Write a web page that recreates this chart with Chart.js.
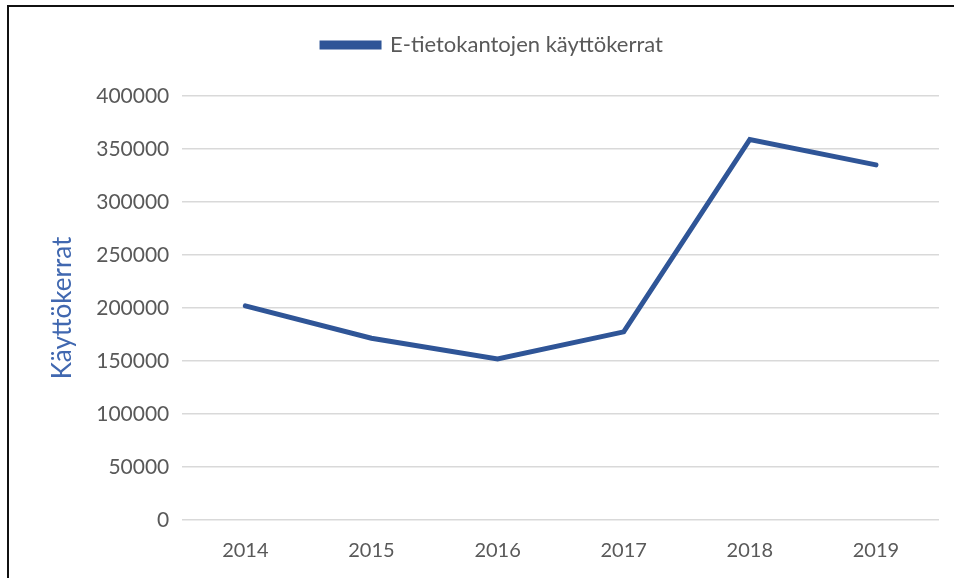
<!DOCTYPE html>
<html>
<head>
<meta charset="utf-8">
<script src="https://cdn.jsdelivr.net/npm/chart.js@4/dist/chart.umd.min.js"></script>
<style>
  html, body { margin: 0; padding: 0; background: #fff; }
  #wrap { position: relative; width: 954px; height: 578px; }
  #frame { position: absolute; left: 7px; top: 5px; right: 0; bottom: 0;
           border-left: 2px solid #111; border-top: 2px solid #111; pointer-events: none; }
</style>
</head>
<body>
<div id="wrap">
  <canvas id="usageChart" width="954" height="578"></canvas>
  <div id="frame"></div>
</div>
<script>
// data
const years = ['2014', '2015', '2016', '2017', '2018', '2019'];
const usage = [202000, 171500, 152000, 177500, 359000, 335000];
const yTicks = [0, 50000, 100000, 150000, 200000, 250000, 300000, 350000, 400000];

const seriesLabel = 'E-tietokantojen käyttökerrat';
const axisTitle = 'Käyttökerrat';

const colors = {
    line: '#2F5597',
    text: '#595959',
    title: '#4168B0',
    grid: '#D9D9D9'
};

Chart.defaults.font.family = "Lato, 'Open Sans', sans-serif";
Chart.defaults.color = colors.text;

// push the plot area down below the legend
const legendGap = {
    id: 'legendGap',
    beforeLayout(chart) {
        const legend = chart.legend;
        if (!legend || legend._gapDone) return;
        const fit = legend.fit;
        legend.fit = function () {
            fit.call(this);
            this.height += 30;
        };
        legend._gapDone = true;
    }
};

new Chart(document.getElementById('usageChart'), {
    type: 'line',
    data: {
        labels: years,
        datasets: [{
            label: seriesLabel,
            data: usage,
            borderColor: colors.line,
            backgroundColor: colors.line,
            borderWidth: 5,
            borderCapStyle: 'round',
            borderJoinStyle: 'miter',
            tension: 0,
            pointRadius: 0,
            pointHoverRadius: 0
        }]
    },
    options: {
        responsive: false,
        animation: false,
        layout: { padding: { left: 46, right: 15, top: 24, bottom: 4 } },
        plugins: {
            legend: {
                position: 'top',
                labels: { boxWidth: 57, boxHeight: 4, padding: 10, font: { size: 22 }, color: colors.text }
            },
            tooltip: { enabled: false }
        },
        scales: {
            x: {
                offset: true,
                grid: { display: false },
                border: { display: false },
                ticks: { padding: 11, font: { size: 20 }, color: colors.text }
            },
            y: {
                min: 0,
                max: 400000,
                afterBuildTicks(axis) { axis.ticks = yTicks.map(v => ({ value: v })); },
                grid: { color: colors.grid, lineWidth: 1.5, drawTicks: false },
                border: { display: false },
                ticks: { padding: 13, font: { size: 21 }, color: colors.text, callback: v => String(v) },
                title: {
                    display: true,
                    text: axisTitle,
                    color: colors.title,
                    font: { size: 26 },
                    padding: { top: 1, bottom: 5 }
                }
            }
        }
    },
    plugins: [legendGap]
});
</script>
</body>
</html>
